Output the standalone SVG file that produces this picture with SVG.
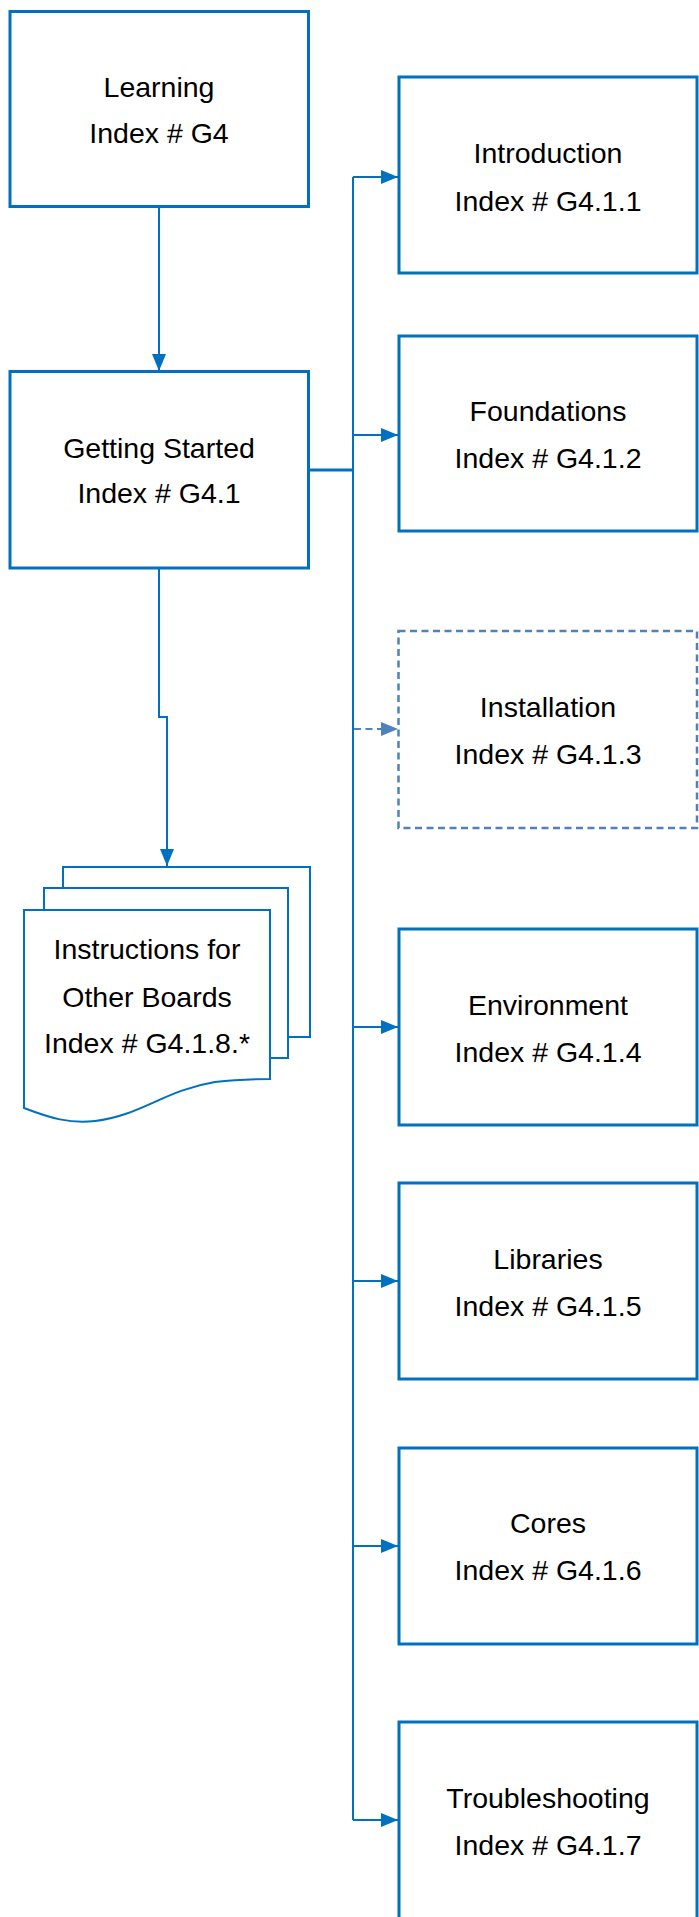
<svg xmlns="http://www.w3.org/2000/svg" width="699" height="1917" viewBox="0 0 699 1917">
<style>
  .box { fill: #ffffff; stroke: #0070C0; stroke-width: 3; }
  .dbox { fill: #ffffff; stroke: #4F81BD; stroke-width: 2.5; stroke-dasharray: 7 4.5; }
  .doc { fill: #ffffff; stroke: #0070C0; stroke-width: 2; }
  .lbl { font-family: "Liberation Sans", Arial, sans-serif; font-size: 28.5px; fill: #000000; text-anchor: middle; }
  .conn { fill: none; stroke: #0070C0; stroke-width: 2; }
  .dconn { fill: none; stroke: #4F81BD; stroke-width: 2; stroke-dasharray: 7 4.5; }
</style>
<defs>
  <marker id="arr" markerUnits="userSpaceOnUse" markerWidth="17" markerHeight="15" refX="17" refY="7.5" orient="auto">
    <path d="M0,0.5 L17,7.5 L0,14.5 z" fill="#0070C0"/>
  </marker>
  <marker id="darr" markerUnits="userSpaceOnUse" markerWidth="17" markerHeight="15" refX="17" refY="7.5" orient="auto">
    <path d="M0,0.5 L17,7.5 L0,14.5 z" fill="#4F81BD"/>
  </marker>
</defs>

<g id="connectors">
  <path class="conn" d="M159,208 L159,371" marker-end="url(#arr)"/>
  <path class="conn" d="M159,569 L159,717 L167,717 L167,866" marker-end="url(#arr)"/>
  <path class="conn" d="M309,470 L353,470" style="stroke-width:3"/>
  <path class="conn" d="M353,177 L353,1820"/>
  <path class="conn" d="M353,177 L398,177" marker-end="url(#arr)"/>
  <path class="conn" d="M353,435 L398,435" marker-end="url(#arr)"/>
  <path class="dconn" d="M354,729 L398,729" marker-end="url(#darr)"/>
  <path class="conn" d="M353,1027 L398,1027" marker-end="url(#arr)"/>
  <path class="conn" d="M353,1281 L398,1281" marker-end="url(#arr)"/>
  <path class="conn" d="M353,1546 L398,1546" marker-end="url(#arr)"/>
  <path class="conn" d="M353,1820 L398,1820" marker-end="url(#arr)"/>
</g>

<g id="learning">
  <rect class="box" x="10" y="11.5" width="298.5" height="195"/>
  <text class="lbl" x="159" y="97">Learning</text>
  <text class="lbl" x="159" y="143">Index # G4</text>
</g>

<g id="getting-started">
  <rect class="box" x="10" y="371.5" width="298.5" height="196.5"/>
  <text class="lbl" x="159" y="458">Getting Started</text>
  <text class="lbl" x="159" y="503">Index # G4.1</text>
</g>

<g id="introduction">
  <rect class="box" x="399" y="77" width="298" height="196"/>
  <text class="lbl" x="548" y="163">Introduction</text>
  <text class="lbl" x="548" y="211">Index # G4.1.1</text>
</g>

<g id="foundations">
  <rect class="box" x="399" y="336" width="298" height="195"/>
  <text class="lbl" x="548" y="421">Foundations</text>
  <text class="lbl" x="548" y="468">Index # G4.1.2</text>
</g>

<g id="installation">
  <rect class="dbox" x="398.5" y="631" width="298.5" height="197"/>
  <text class="lbl" x="548" y="717">Installation</text>
  <text class="lbl" x="548" y="764">Index # G4.1.3</text>
</g>

<g id="environment">
  <rect class="box" x="399" y="929" width="298" height="196"/>
  <text class="lbl" x="548" y="1015">Environment</text>
  <text class="lbl" x="548" y="1062">Index # G4.1.4</text>
</g>

<g id="libraries">
  <rect class="box" x="399" y="1183" width="298" height="196"/>
  <text class="lbl" x="548" y="1269">Libraries</text>
  <text class="lbl" x="548" y="1316">Index # G4.1.5</text>
</g>

<g id="cores">
  <rect class="box" x="399" y="1448" width="298" height="196"/>
  <text class="lbl" x="548" y="1533">Cores</text>
  <text class="lbl" x="548" y="1580">Index # G4.1.6</text>
</g>

<g id="troubleshooting">
  <rect class="box" x="399" y="1722" width="298" height="230"/>
  <text class="lbl" x="548" y="1808">Troubleshooting</text>
  <text class="lbl" x="548" y="1855">Index # G4.1.7</text>
</g>

<g id="other-boards">
  <path class="doc" d="M63,888 L63,867 L310,867 L310,1037 L289,1037"/>
  <path class="doc" d="M44,910 L44,888 L288,888 L288,1058 L271,1058"/>
  <path class="doc" d="M24,910 L270,910 L270,1079 C255,1079 240,1079 215,1082 C165,1090 140,1116 95,1121 C70,1124 50,1118 24,1108 Z"/>
  <text class="lbl" x="147" y="959">Instructions for</text>
  <text class="lbl" x="147" y="1007">Other Boards</text>
  <text class="lbl" x="147" y="1053">Index # G4.1.8.*</text>
</g>
</svg>
